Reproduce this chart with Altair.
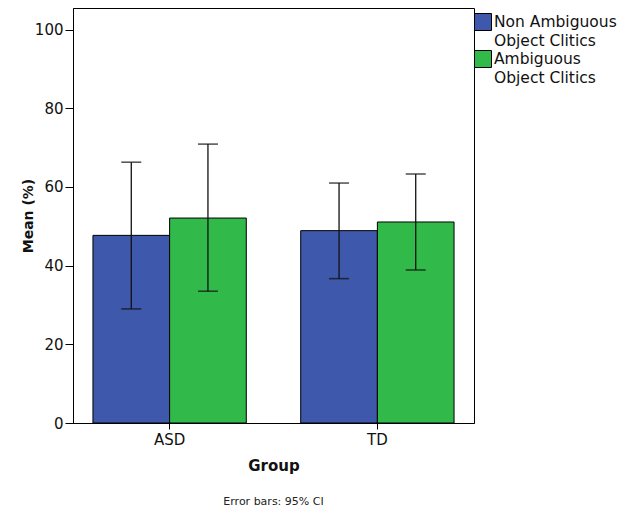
import altair as alt
import pandas as pd

groups = ["ASD", "TD"]
clitic_types = ["Non Ambiguous Object Clitics", "Ambiguous Object Clitics"]
group_col = ["ASD", "ASD", "TD", "TD"]
type_col = [clitic_types[0], clitic_types[1], clitic_types[0], clitic_types[1]]
mean_vals = [47.7, 52.1, 48.9, 51.1]
ci_low = [29.0, 33.5, 36.7, 38.9]
ci_high = [66.3, 70.9, 61.0, 63.3]
y_ticks = [0, 20, 40, 60, 80, 100]
colors = ["#3E58AC", "#31B94A"]

df = pd.DataFrame({"group": group_col, "type": type_col, "mean": mean_vals,
                   "lo": ci_low, "hi": ci_high})

FONT = "DejaVu Sans"

x = alt.X("group:N", sort=groups,
          scale=alt.Scale(paddingInner=0.262, paddingOuter=0.096),
          axis=alt.Axis(title="Group", labelAngle=0, tickSize=6, labelPadding=3,
                        titlePadding=11, titleFontSize=15, titleFontWeight="bold",
                        labelFontSize=15))
xoff = alt.XOffset("type:N", sort=clitic_types, scale=alt.Scale(paddingInner=0, paddingOuter=0))

bars = alt.Chart(df).mark_bar(stroke="black", strokeWidth=1).encode(
    x=x,
    xOffset=xoff,
    y=alt.Y("mean:Q", scale=alt.Scale(domain=[0, 105.5], nice=False),
            axis=alt.Axis(title="Mean (%)", values=y_ticks, tickSize=8, labelPadding=2,
                          titlePadding=-1, titleFontSize=14, titleFontWeight="bold",
                          labelFontSize=15)),
    color=alt.Color("type:N", sort=clitic_types,
                    scale=alt.Scale(domain=clitic_types, range=colors),
                    legend=alt.Legend(title=None, orient="none", legendX=401, legendY=5,
                                      symbolType="square", symbolSize=289,
                                      symbolStrokeColor="black", symbolStrokeWidth=1,
                                      symbolOpacity=1, labelFontSize=15.5, labelColor="#111",
                                      labelOffset=2, rowPadding=-1, padding=0,
                                      labelExpr="datum.label == 'Non Ambiguous Object Clitics' ? ['Non Ambiguous', 'Object Clitics'] : ['Ambiguous', 'Object Clitics']")),
)

rules = alt.Chart(df).mark_rule(color="#111", strokeWidth=1.3).encode(
    x=x, xOffset=xoff, y="lo:Q", y2="hi:Q")

caps_hi = alt.Chart(df).mark_tick(color="#111", size=20, thickness=1.6, orient="horizontal").encode(
    x=x, xOffset=xoff, y="hi:Q")
caps_lo = alt.Chart(df).mark_tick(color="#111", size=20, thickness=1.6, orient="horizontal").encode(
    x=x, xOffset=xoff, y="lo:Q")

chart = alt.layer(bars, rules, caps_hi, caps_lo).properties(
    width=401, height=415,
    autosize=alt.AutoSizeParams(type="none"),
    padding={"left": 65, "top": 0, "right": 150, "bottom": 90},
    title=alt.TitleParams("Error bars: 95% CI", orient="bottom", fontSize=11,
                          fontWeight="normal", color="#222", offset=23, font=FONT),
).configure(
    font=FONT, style={"guide-label": {"lineHeight": 18.5}}
).configure_view(stroke="black", strokeWidth=1).configure_axis(
    grid=False, domainColor="black", tickColor="black", labelColor="#111",
    titleColor="#111", labelFont=FONT, titleFont=FONT, domainWidth=1, tickWidth=1
).configure_legend(labelFont=FONT)

chart.save("out.html", embed_options={"renderer": "svg", "actions": False})
